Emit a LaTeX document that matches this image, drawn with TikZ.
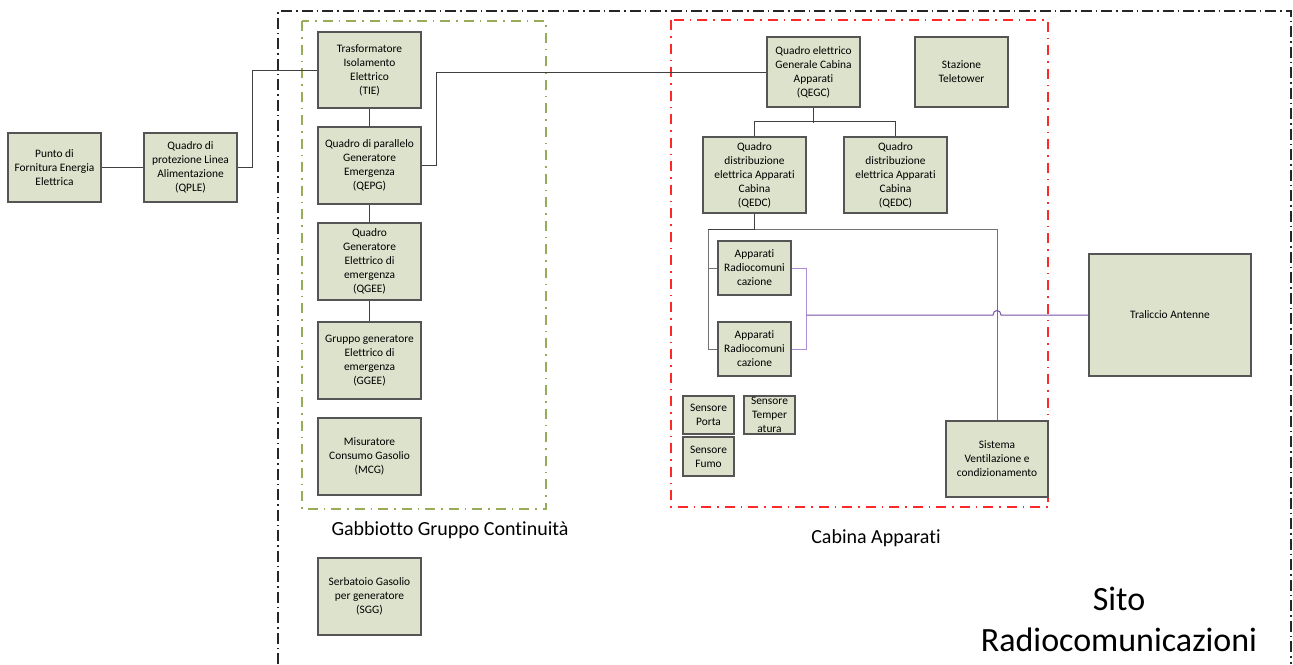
\documentclass[tikz,border=0pt]{standalone}
\usepackage{fontspec}
\setmainfont{Carlito}[Ligatures=NoCommon]
\usetikzlibrary{calc}
\definecolor{riempi}{RGB}{221,226,204}
\definecolor{bordo}{RGB}{85,85,85}
\definecolor{oliva}{RGB}{150,172,88}
\definecolor{rosso}{RGB}{255,40,40}
\definecolor{viola}{RGB}{120,80,165}
\definecolor{lilla}{RGB}{175,140,215}

\begin{document}
\begin{tikzpicture}[x=1pt,y=-1pt,
    blocco/.style={draw=bordo,fill=riempi,line width=1.1pt,align=center,inner sep=0pt,
      font=\fontsize{11.4}{14}\selectfont},
    cavo/.style={draw=black!75,line width=1pt},
    cavogrigio/.style={draw=black!55,line width=1pt},
    telaio/.style={draw=black!85,line width=1.3pt,dash pattern=on 11pt off 4pt on 1.5pt off 4pt},
    cornice/.style={line width=1.3pt,dash pattern=on 10pt off 6pt on 1.5pt off 6pt}]

            \useasboundingbox (0,0) rectangle (1293,664);

            % contorni
            \draw[telaio] (278,664) -- (278,11) -- (1291,11) -- (1291,664);
            \draw[cornice,oliva] (302,21) rectangle (546,509);
            \draw[cornice,rosso] (671,20) rectangle (1048,507);

            % fornitura
            \node[blocco,minimum width=93pt,minimum height=69pt] (punto) at (54.5,167.5) {Punto di\\Fornitura Energia\\Elettrica};
            \node[blocco,minimum width=93pt,minimum height=69pt] (qple) at (190.5,167.5) {Quadro di\\protezione Linea\\Alimentazione\\(QPLE)};

            % gabbiotto
            \node[blocco,minimum width=103pt,minimum height=76pt] (tie) at (369.5,70) {Trasformatore\\Isolamento\\Elettrico\\(TIE)};
            \node[blocco,minimum width=103pt,minimum height=77pt] (qepg) at (369.5,165.5) {Quadro di parallelo\\Generatore\\Emergenza\\(QEPG)};
            \node[blocco,minimum width=103pt,minimum height=77pt] (qgee) at (369.5,261.5) {Quadro\\Generatore\\Elettrico di\\emergenza\\(QGEE)};
            \node[blocco,minimum width=103pt,minimum height=77pt] (ggee) at (369.5,360.5) {Gruppo generatore\\Elettrico di\\emergenza\\(GGEE)};
            \node[blocco,minimum width=103pt,minimum height=77pt] (mcg) at (369.5,456.5) {Misuratore\\Consumo Gasolio\\(MCG)};
            \node[blocco,minimum width=103pt,minimum height=77pt] (sgg) at (369.5,596.5) {Serbatoio Gasolio\\per generatore\\(SGG)};

            % cabina
            \node[blocco,minimum width=93pt,minimum height=70pt] (qegc) at (813.5,72) {Quadro elettrico\\Generale Cabina\\Apparati\\(QEGC)};
            \node[blocco,minimum width=93pt,minimum height=70pt] (tele) at (961.5,72) {Stazione\\Teletower};

            \foreach \nome/\x in {qedcA/754.5,qedcB/895.5}{
              \node[blocco,minimum width=103pt,minimum height=76pt] (\nome) at (\x,175) {Quadro\\distribuzione\\elettrica Apparati\\Cabina\\(QEDC)};
            }

            \foreach \nome/\y in {appA/268,appB/349}{
              \node[blocco,minimum width=73pt,minimum height=54pt] (\nome) at (754.5,\y) {Apparati\\Radiocomuni\\cazione};
            }

            \node[blocco,minimum width=51pt,minimum height=38pt] (sporta) at (708.5,415) {Sensore\\Porta};
            \node[blocco,minimum width=51pt,minimum height=38pt] (stemp) at (769.5,415) {Sensore\\Temper\\atura};
            \node[blocco,minimum width=51pt,minimum height=39pt] (sfumo) at (708.5,456.5) {Sensore\\Fumo};
            \node[blocco,minimum width=102pt,minimum height=76pt] (sistema) at (997,459) {Sistema\\Ventilazione e\\condizionamento};

            \node[blocco,minimum width=162pt,minimum height=122pt] (traliccio) at (1170,315) {Traliccio Antenne};

            % collegamenti
            \draw[cavo] (punto) -- (qple);
            \draw[cavo] (qple.east) -- ++(15,0) |- (tie.west);
            \draw[cavo] (tie) -- (qepg);
            \draw[cavo] (qepg) -- (qgee);
            \draw[cavo] (qgee) -- (ggee);
            \draw[cavo] (qepg.east) -- ++(15,0) |- (qegc.west);
            \draw[cavo] (qegc.south) -- ++(0,15);
            \draw[cavo] (qedcA.north) -- ++(0,-15) -| (qedcB.north);

            \draw[cavo] (qedcA.south) -- ++(0,16) coordinate (nodoQ) -- ++(-46.5,0) coordinate (nodoL);
            \draw[cavogrigio] (nodoL) |- (appA.west);
            \draw[cavogrigio] (nodoL) |- (appB.west);
            \draw[cavogrigio] (nodoQ) -| (sistema.north);

            \draw[lilla,line width=1pt] (appA.east) -- ++(15,0) coordinate (forca) |- (appB.east);
            \coordinate (salto) at (sistema.north|-traliccio.west);
            \draw[viola,line width=1pt] (traliccio.west) -- ($(salto)+(4,0)$)
              .. controls ($(salto)+(4,-6)$) and ($(salto)+(-4,-6)$) .. ($(salto)+(-4,0)$)
              -- (traliccio.west-|forca);

            % etichette
            \node[font=\fontsize{20}{24}\selectfont] (lblGabbia) at (450,530) {Gabbiotto Gruppo Continuità};
            \node[font=\fontsize{20}{24}\selectfont] (lblCabina) at (876,538) {Cabina Apparati};
            \node[font=\fontsize{34}{41}\selectfont,align=center] (lblSito) at (1119,619.5) {Sito\\Radiocomunicazioni};

\end{tikzpicture}
\end{document}
